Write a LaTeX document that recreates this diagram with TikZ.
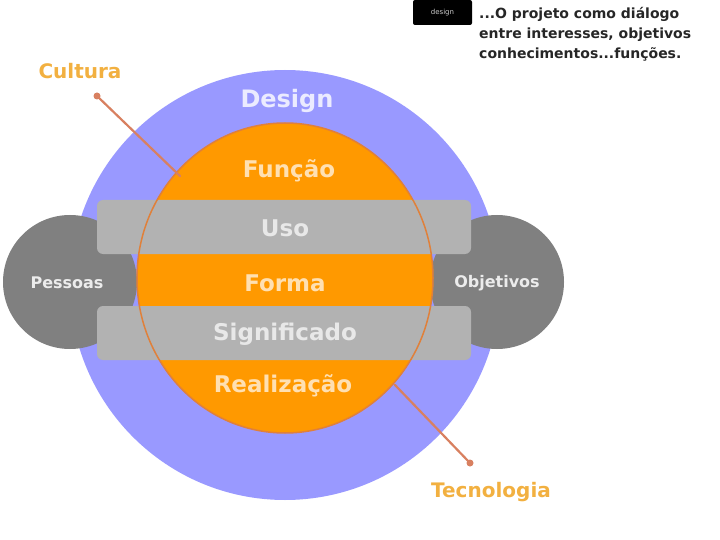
\documentclass[tikz,border=0pt]{standalone}
\usepackage{fontspec}
\setmainfont{DejaVu Sans}
\definecolor{dblue}{HTML}{9999FF}
\definecolor{dorange}{HTML}{FF9900}
\definecolor{dgray}{HTML}{808080}
\definecolor{lgray}{HTML}{B2B2B2}
\definecolor{ring}{HTML}{E0803A}
\definecolor{labor}{HTML}{F2B040}
\definecolor{lnk}{HTML}{D88060}
\begin{document}
\begin{tikzpicture}[x=1pt,y=-1pt,
  bandtxt/.style={font=\bfseries\fontsize{23}{28}\selectfont},
  sidetxt/.style={font=\bfseries\fontsize{16}{18}\selectfont, text=white!85!gray},
  lbl/.style={font=\bfseries\fontsize{20}{23}\selectfont, text=labor},
  link/.style={draw=lnk, line width=2.2pt, line cap=round}]
\useasboundingbox (0,0) rectangle (720,540);
% big design circle
\fill[dblue] (285,285) circle (215);
\node[bandtxt, text=white!80!dblue, font=\bfseries\fontsize{24}{28}\selectfont] (design) at (287,101) {Design};
% side circles
\fill[dgray] (70,282) circle (67);
\fill[dgray] (497,282) circle (67);
% orange ellipse
\fill[dorange] (285,278) ellipse [x radius=148, y radius=155];
% bars
\fill[lgray, rounded corners=6pt] (97,200) rectangle (471,254);
\fill[lgray, rounded corners=6pt] (97,306) rectangle (471,360);
% ring outline
\draw[ring, line width=1.5pt] (285,278) ellipse [x radius=148, y radius=155];
% texts
\node[bandtxt, text=white!70!dorange] (funcao) at (289,171) {Função};
\node[bandtxt, text=white!70!lgray] (uso) at (285,228) {Uso};
\node[bandtxt, text=white!70!dorange] (forma) at (285,283) {Forma};
\node[bandtxt, text=white!70!lgray] (signif) at (285,334) {Significado};
\node[bandtxt, text=white!70!dorange] (realiz) at (283,386) {Realização};
\node[sidetxt] (pessoas) at (67,283) {Pessoas};
\node[sidetxt] (objetivos) at (497,283) {Objetivos};
% labels
\node[lbl] (cultura) at (80,71) {Cultura};
\node[lbl] (tecno) at (491,492) {Tecnologia};
\coordinate (c1) at (97,96);
\coordinate (c2) at (180,176);
\coordinate (t1) at (470,463);
\coordinate (t2) at (395,385);
\draw[link] (c1) -- (c2);
\fill[lnk] (c1) circle (3.5);
\draw[link] (t1) -- (t2);
\fill[lnk] (t1) circle (3.5);
% top right note
\fill[black, rounded corners=2pt] (413,0) rectangle (472,25);
\node[text=white!80!black, font=\fontsize{7}{8}\selectfont] (tag) at (442.5,13) {design};
\node[anchor=north west, align=left, inner sep=0pt, font=\bfseries\fontsize{14}{20}\selectfont, text=black!85] (note) at (479,7)
 {...O projeto como diálogo\\entre interesses, objetivos\\conhecimentos...funções.};
\end{tikzpicture}
\end{document}
